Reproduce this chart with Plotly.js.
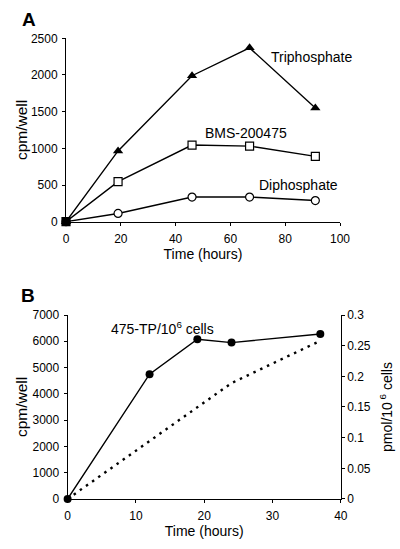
<!DOCTYPE html>
<html>
<head>
<meta charset="utf-8">
<script src="https://cdn.plot.ly/plotly-3.0.1.min.js"></script>
<style>html,body{margin:0;padding:0;background:#fff;}#chart{width:400px;height:549px;}</style>
</head>
<body>
<div id="chart"></div>
<script>
// Panel A data
const hoursA = [0, 19, 46, 67, 91];
const triphosphate = [0, 965, 1990, 2370, 1550];
const bms200475 = [0, 545, 1045, 1030, 890];
const diphosphate = [0, 112, 336, 336, 288];
const xTicksA = [0, 20, 40, 60, 80, 100];
const yTicksA = [0, 500, 1000, 1500, 2000, 2500];

// Panel B data
const hoursB = [0, 12, 19, 24, 37];
const cpmWellB = [0, 4750, 6080, 5950, 6280];
const pmolPerCells = [0, 0.094, 0.149, 0.189, 0.258];
const xTicksB = [0, 10, 20, 30, 40];
const yTicksB = [0, 1000, 2000, 3000, 4000, 5000, 6000, 7000];
const yTicksB2 = [0, 0.05, 0.1, 0.15, 0.2, 0.25, 0.3];

const FONT = '"Liberation Sans", Arial, sans-serif';
const lineStyle = {color: '#000', width: 1.4};

const traces = [
  {x: hoursA, y: triphosphate, xaxis: 'x', yaxis: 'y', mode: 'lines+markers', line: lineStyle, cliponaxis: false,
   marker: {symbol: 'triangle-up', size: 9, color: '#000'}},
  {x: hoursA, y: diphosphate, xaxis: 'x', yaxis: 'y', mode: 'lines+markers', line: lineStyle, cliponaxis: false,
   marker: {symbol: 'circle', size: 8, color: '#fff', line: {color: '#000', width: 1.2}}},
  {x: hoursA, y: bms200475, xaxis: 'x', yaxis: 'y', mode: 'lines+markers', line: lineStyle, cliponaxis: false,
   marker: {symbol: 'square', size: 8, color: ['#000', '#fff', '#fff', '#fff', '#fff'], line: {color: '#000', width: 1.2}}},
  {x: hoursB, y: pmolPerCells, xaxis: 'x2', yaxis: 'y4', mode: 'lines', cliponaxis: false,
   line: {color: '#000', width: 2.4, dash: '2.5px,5px'}},
  {x: hoursB, y: cpmWellB, xaxis: 'x2', yaxis: 'y2', mode: 'lines+markers', line: lineStyle, cliponaxis: false,
   marker: {symbol: 'circle', size: 8, color: '#000'}}
];

const tickfont = {family: FONT, size: 12, color: '#000'};
const titlefont = {family: FONT, size: 14, color: '#000'};
const ytitlefont = {family: FONT, size: 15.5, color: '#000'};
function baseAxis(extra) {
  return Object.assign({
    showgrid: false, zeroline: false, showline: true, linecolor: '#000', linewidth: 1,
    ticks: 'outside', ticklen: 3, tickwidth: 1, tickcolor: '#000', tickfont: tickfont,
    fixedrange: true
  }, extra);
}
function innerTicks(extra) {
  return Object.assign({
    showgrid: false, zeroline: false, showline: false, showticklabels: false,
    ticks: 'inside', ticklen: 3, tickwidth: 1, tickcolor: '#000', fixedrange: true
  }, extra);
}

const domA_x = [0.165, 0.85], domA_y = [0.5962, 0.9302];
const domB_x = [0.169, 0.852], domB_y = [0.0911, 0.4262];

const layout = {
  width: 400, height: 549,
  margin: {l: 0, r: 0, t: 0, b: 0},
  paper_bgcolor: '#fff', plot_bgcolor: 'rgba(0,0,0,0)',
  showlegend: false,
  font: {family: FONT, color: '#000'},
  xaxis: baseAxis({domain: domA_x, anchor: 'y', range: [0, 100], tickvals: xTicksA, ticklabelstandoff: 3,
    title: {text: 'Time (hours)', font: titlefont, standoff: 3}}),
  yaxis: baseAxis({domain: domA_y, anchor: 'x', range: [0, 2500], tickvals: yTicksA, ticklabelstandoff: 2}),
  xaxis3: innerTicks({overlaying: 'x', anchor: 'y', range: [0, 100], tickvals: xTicksA}),
  yaxis3: innerTicks({overlaying: 'y', anchor: 'x', range: [0, 2500], tickvals: yTicksA}),

  xaxis2: baseAxis({domain: domB_x, anchor: 'y2', range: [0, 40], tickvals: xTicksB, ticklabelstandoff: 3,
    title: {text: 'Time (hours)', font: titlefont, standoff: 3}}),
  yaxis2: baseAxis({domain: domB_y, anchor: 'x2', range: [0, 7000], tickvals: yTicksB, ticklabelstandoff: 2}),
  yaxis4: baseAxis({overlaying: 'y2', anchor: 'x2', side: 'right', range: [0, 0.3], tickvals: yTicksB2,
    title: {text: 'pmol/10<sup> 6</sup> cells', font: titlefont, standoff: 12}}),
  xaxis4: innerTicks({overlaying: 'x2', anchor: 'y2', range: [0, 40], tickvals: xTicksB}),
  yaxis5: innerTicks({overlaying: 'y2', anchor: 'x2', range: [0, 7000], tickvals: yTicksB}),
  yaxis6: innerTicks({overlaying: 'y2', anchor: 'x2', side: 'right', range: [0, 0.3], tickvals: yTicksB2}),

  annotations: [
    {text: '<b>A</b>', xref: 'paper', yref: 'paper', x: 0.049, y: 0.9636, xanchor: 'left', yanchor: 'middle',
     showarrow: false, font: {family: FONT, size: 19, color: '#000'}},
    {text: '<b>B</b>', xref: 'paper', yref: 'paper', x: 0.047, y: 0.461, xanchor: 'left', yanchor: 'middle',
     showarrow: false, font: {family: FONT, size: 19, color: '#000'}},
    // left y-axis titles
    {text: 'cpm/well', xref: 'paper', yref: 'paper', x: 0.0525, y: 0.763, xanchor: 'center', yanchor: 'middle',
     textangle: -90, showarrow: false, font: ytitlefont},
    {text: 'cpm/well', xref: 'paper', yref: 'paper', x: 0.0525, y: 0.2586, xanchor: 'center', yanchor: 'middle',
     textangle: -90, showarrow: false, font: ytitlefont},
    {text: 'Triphosphate', xref: 'x', yref: 'y', x: 74.0, y: 2245, xanchor: 'left', yanchor: 'middle',
     showarrow: false, font: titlefont},
    {text: 'BMS-200475', xref: 'x', yref: 'y', x: 50.0, y: 1209, xanchor: 'left', yanchor: 'middle',
     showarrow: false, font: titlefont},
    {text: 'Diphosphate', xref: 'x', yref: 'y', x: 69.6, y: 500, xanchor: 'left', yanchor: 'middle',
     showarrow: false, font: titlefont},
    {text: '475-TP/10<sup>6</sup> cells', xref: 'x2', yref: 'y2', x: 6.1, y: 6504, xanchor: 'left', yanchor: 'middle',
     showarrow: false, font: titlefont}
  ]
};

Plotly.newPlot('chart', traces, layout, {staticPlot: true, displayModeBar: false});
</script>
</body>
</html>
